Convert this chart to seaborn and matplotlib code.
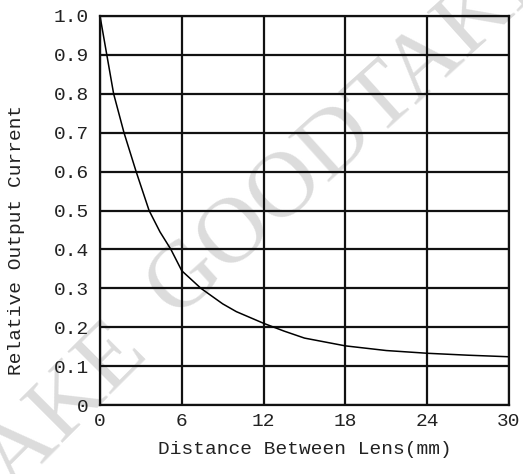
import matplotlib
matplotlib.use("Agg")
import matplotlib.pyplot as plt
import seaborn as sns
import pandas as pd

# values
distance_mm = [0, 0.5, 1.0, 1.76, 2.65, 3.6, 4.4, 5.2, 6, 7.4, 8, 9, 10, 12, 13.5, 15, 18, 21, 24, 27, 30]
rel_current = [1.0, 0.9, 0.8, 0.7, 0.6, 0.5, 0.445, 0.4, 0.345, 0.3, 0.285, 0.26, 0.24, 0.21, 0.19, 0.172, 0.152, 0.14, 0.133, 0.128, 0.124]

x_ticks = [0, 6, 12, 18, 24, 30]
y_ticks = [0, 0.1, 0.2, 0.3, 0.4, 0.5, 0.6, 0.7, 0.8, 0.9, 1.0]
y_tick_labels = ["0", "0.1", "0.2", "0.3", "0.4", "0.5", "0.6", "0.7", "0.8", "0.9", "1.0"]

df = pd.DataFrame({"Distance": distance_mm, "Current": rel_current})

sns.set_style("white")
plt.rcParams["font.family"] = ["Liberation Mono", "DejaVu Sans Mono"]

fig = plt.figure(figsize=(5.23, 4.74), dpi=100)
ax = fig.add_axes([100 / 523, 69 / 474, 409 / 523, 389 / 474])
ax.set_facecolor("none")
ax.set_zorder(2)

# faint watermark behind the grid (cut at the edges like the original)
wm = dict(family="Liberation Serif", fontsize=68, color="#dcdcdc", zorder=0,
          ha="center", va="center")
fig.text(0.672, 0.728, "GOODTAKE", rotation=42, **wm)
fig.text(-0.094, -0.097, "GOODTAKE", rotation=45, **wm)

sns.lineplot(data=df, x="Distance", y="Current", ax=ax, color="black", linewidth=1.1)

ax.set_xlim(0, 30)
ax.set_ylim(0, 1.0)
ax.set_xticks(x_ticks)
ax.set_yticks(y_ticks)
ax.set_yticklabels(y_tick_labels)
ax.grid(True, color="#111111", linewidth=1.6)
ax.set_axisbelow(True)
for s in ax.spines.values():
    s.set_visible(True)
    s.set_color("#111111")
    s.set_linewidth(1.6)
ax.tick_params(length=0, labelsize=14, labelcolor="#222222")
ax.tick_params(axis="x", pad=6)
ax.tick_params(axis="y", pad=8)

ax.set_xlabel("Distance Between Lens(mm)", fontsize=14, color="#222222", labelpad=8)
ax.set_ylabel("Relative Output Current", fontsize=14, color="#222222")
ax.yaxis.set_label_coords(-0.183, 0.424)

fig.savefig("out.png", dpi=100)
